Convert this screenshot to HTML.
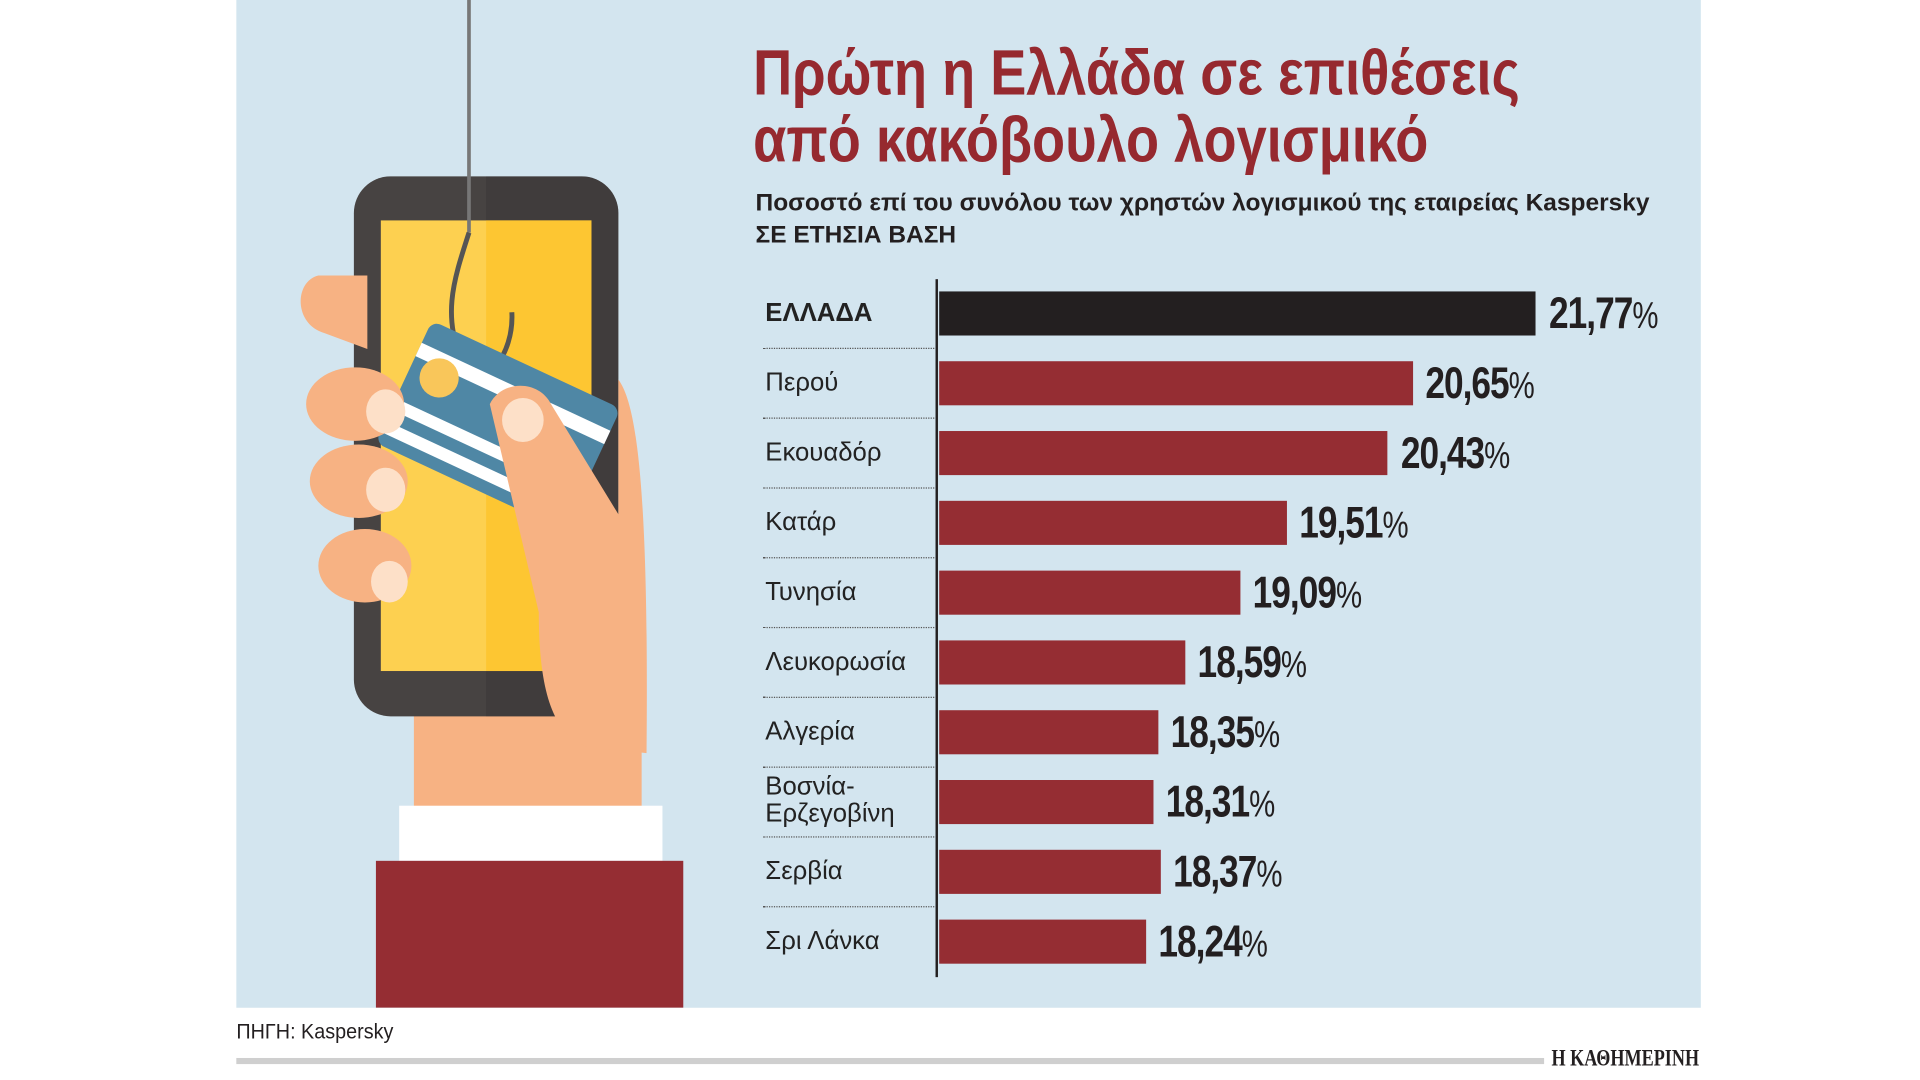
<!DOCTYPE html>
<html><head><meta charset="utf-8"><style>
html,body{margin:0;padding:0;background:#fff;width:1920px;height:1080px;overflow:hidden}
#c{position:absolute;left:0;top:0;width:1568px;height:882px;transform:scale(1.2245);transform-origin:0 0;font-family:"Liberation Sans","DejaVu Sans",sans-serif}
.a{position:absolute}
.lab{position:absolute;left:625px;font-size:21px;color:#222;transform:scaleX(1.0);transform-origin:0 50%;line-height:22px;white-space:nowrap}
.bar{position:absolute;left:767px;height:36px;background:#952d33}
.val{position:absolute;font-size:36px;font-weight:bold;color:#231f20;transform:scaleX(0.8);transform-origin:0 50%;letter-spacing:-1px;line-height:36px;white-space:nowrap}
.val small{font-size:30px;font-weight:normal}
.dot{position:absolute;left:623px;width:140px;border-top:1.5px dotted #555}
</style></head><body><div id="c">
<div class="a" style="left:193px;top:0;width:1196px;height:823px;background:#d3e5ef"></div>
<svg class="a" style="left:193px;top:0" width="400" height="823" viewBox="193 0 400 823">
<defs><clipPath id="ph"><rect x="289" y="144" width="216" height="441" rx="30"/></clipPath></defs>
<rect x="338" y="560" width="186" height="100" fill="#f7b283"/>
<rect x="289" y="144" width="216" height="441" rx="30" fill="#474342"/>
<rect x="397" y="144" width="108" height="441" fill="#3a3635" opacity="0.5" clip-path="url(#ph)"/>
<rect x="311" y="180" width="172" height="368" fill="#fdd050"/>
<rect x="397" y="180" width="86" height="368" fill="#fdc632"/>
<line x1="383" y1="0" x2="383" y2="190" stroke="#777" stroke-width="3"/>
<path d="M383 190 C370 230 360 260 380 300 C395 320 420 290 418 255" fill="none" stroke="#555" stroke-width="4"/>
<g transform="rotate(25 400 350)">
<rect x="320" y="290" width="170" height="110" rx="8" fill="#4f87a5"/>
<rect x="320" y="310" width="170" height="12" fill="#fff"/>
<rect x="320" y="360" width="170" height="10" fill="#fff"/>
<rect x="320" y="380" width="170" height="10" fill="#fff"/>
<circle cx="345" cy="330" r="16" fill="#f9c65a"/>
</g>
<path d="M260 225 C240 230 240 265 265 272 L300 285 L300 225 Z" fill="#f7b283"/>
<ellipse cx="290" cy="330" rx="40" ry="30" fill="#f7b283"/>
<ellipse cx="293" cy="393" rx="40" ry="30" fill="#f7b283"/>
<ellipse cx="298" cy="462" rx="38" ry="30" fill="#f7b283"/>
<ellipse cx="315" cy="336" rx="16" ry="18" fill="#fde0c8"/>
<ellipse cx="315" cy="400" rx="16" ry="18" fill="#fde0c8"/>
<ellipse cx="318" cy="475" rx="15" ry="17" fill="#fde0c8"/>
<path d="M400 330 C410 310 440 310 450 330 L505 420 L505 310 C520 330 530 400 528 615 L480 610 C450 600 440 560 440 500 Z" fill="#f7b283"/>
<ellipse cx="427" cy="343" rx="17" ry="18" fill="#fde0c8"/>
<rect x="326" y="658" width="215" height="45" fill="#fff"/>
<rect x="307" y="703" width="251" height="120" fill="#952d33"/>
</svg>
<div class="a" style="left:615px;top:33px;font-size:52px;font-weight:bold;color:#96292f;line-height:55px;transform:scaleX(0.85);transform-origin:0 0;white-space:nowrap">Πρώτη η Ελλάδα σε επιθέσεις<br>από κακόβουλο λογισμικό</div>
<div class="a" style="left:617px;top:153px;font-size:20px;font-weight:bold;color:#231f20;line-height:26px;transform:scaleX(1.0);transform-origin:0 0;white-space:nowrap">Ποσοστό επί του συνόλου των χρηστών λογισμικού της εταιρείας Kaspersky<br>ΣΕ ΕΤΗΣΙΑ ΒΑΣΗ</div>
<div class="a" style="left:764px;top:228px;width:2px;height:570px;background:#231f20"></div>
<div class="bar" style="top:238px;width:487px;background:#231f20"></div>
<div class="lab" style="top:245px;font-weight:bold">ΕΛΛΑΔΑ</div>
<div class="val" style="left:1265px;top:238px">21,77<small>%</small></div>
<div class="dot" style="top:284px"></div>
<div class="bar" style="top:295px;width:387px"></div><div class="lab" style="top:302px">Περού</div><div class="val" style="left:1164px;top:295px">20,65<small>%</small></div>
<div class="dot" style="top:341px"></div>
<div class="bar" style="top:352px;width:366px"></div><div class="lab" style="top:359px">Εκουαδόρ</div><div class="val" style="left:1144px;top:352px">20,43<small>%</small></div>
<div class="dot" style="top:398px"></div>
<div class="bar" style="top:409px;width:284px"></div><div class="lab" style="top:416px">Κατάρ</div><div class="val" style="left:1061px;top:409px">19,51<small>%</small></div>
<div class="dot" style="top:455px"></div>
<div class="bar" style="top:466px;width:246px"></div><div class="lab" style="top:473px">Τυνησία</div><div class="val" style="left:1023px;top:466px">19,09<small>%</small></div>
<div class="dot" style="top:512px"></div>
<div class="bar" style="top:523px;width:201px"></div><div class="lab" style="top:530px">Λευκορωσία</div><div class="val" style="left:978px;top:523px">18,59<small>%</small></div>
<div class="dot" style="top:569px"></div>
<div class="bar" style="top:580px;width:179px"></div><div class="lab" style="top:587px">Αλγερία</div><div class="val" style="left:956px;top:580px">18,35<small>%</small></div>
<div class="dot" style="top:626px"></div>
<div class="bar" style="top:637px;width:175px"></div><div class="lab" style="top:632px">Βοσνία-<br>Ερζεγοβίνη</div><div class="val" style="left:952px;top:637px">18,31<small>%</small></div>
<div class="dot" style="top:683px"></div>
<div class="bar" style="top:694px;width:181px"></div><div class="lab" style="top:701px">Σερβία</div><div class="val" style="left:958px;top:694px">18,37<small>%</small></div>
<div class="dot" style="top:740px"></div>
<div class="bar" style="top:751px;width:169px"></div><div class="lab" style="top:758px">Σρι Λάνκα</div><div class="val" style="left:946px;top:751px">18,24<small>%</small></div>
<div class="a" style="left:193px;top:833px;font-size:17px;color:#231f20;transform:scaleX(0.95);transform-origin:0 0">ΠΗΓΗ: Kaspersky</div>
<div class="a" style="left:193px;top:864px;width:1068px;height:5px;background:#cfcfcf"></div>
<div class="a" style="left:1267px;top:854px;font-family:'Liberation Serif',serif;font-size:19px;font-weight:bold;color:#231f20;transform:scaleX(0.78);transform-origin:0 0;white-space:nowrap">Η ΚΑΘΗΜΕΡΙΝΗ</div>
</div></body></html>
